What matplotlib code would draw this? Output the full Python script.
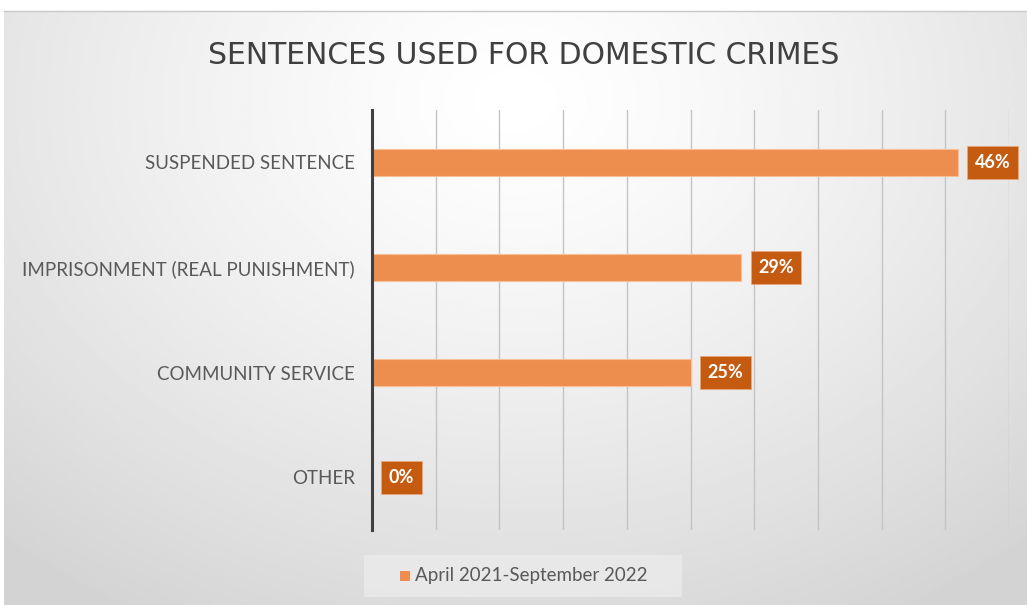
import numpy as np
import matplotlib.pyplot as plt
from matplotlib.patches import Rectangle

categories = ['SUSPENDED SENTENCE', 'IMPRISONMENT (REAL PUNISHMENT)', 'COMMUNITY SERVICE', 'OTHER']
shares = [46, 29, 25, 0]
series_name = 'April 2021-September 2022'

bar_color = '#EE8E4E'
label_color = '#C55A11'

fig = plt.figure(figsize=(10.27, 6.05), dpi=100)
fig.patch.set_facecolor('white')

# chart area with a soft radial shading
bg = fig.add_axes([4 / 1027, 0, 1 - 4 / 1027, 1 - 11 / 605])
yy, xx = np.mgrid[0:1:300j, 0:1:500j]
r = np.sqrt(((xx - 0.5) / 0.75) ** 2 + ((yy - 0.15) / 1.0) ** 2)
shade = 1.0 - 0.17 * np.clip(r, 0, 1) ** 1.3
bg.imshow(shade, cmap='gray', vmin=0, vmax=1, aspect='auto', extent=[0, 1, 0, 1], origin='upper')
bg.set_axis_off()
fig.add_artist(plt.Line2D([4 / 1027, 1], [1 - 11 / 605, 1 - 11 / 605], color='#C8C8C8', lw=1))

ax = fig.add_axes([372 / 1027, 75 / 605, 637 / 1027, 420 / 605])
ax.patch.set_alpha(0)

y = np.arange(len(categories))
ax.barh(y, shares, height=0.25, color=bar_color, edgecolor='#F6BF98', linewidth=0.8, zorder=3)

for yi, v in zip(y, shares):
    ax.annotate(f'{v}%', xy=(v, yi), xytext=(12, 0), textcoords='offset points',
                ha='left', va='center', color='white', fontsize=13, fontweight='bold',
                family=['Lato', 'DejaVu Sans'], zorder=5,
                bbox=dict(boxstyle='square,pad=0.42', fc=label_color, ec='#E8A77A', lw=0.6))

ax.set_xlim(0, 50)
ax.set_ylim(len(categories) - 0.5, -0.5)
ax.set_xticks(np.arange(0, 51, 5))
ax.tick_params(axis='x', length=0, labelbottom=False)
ax.tick_params(axis='y', length=0, pad=12.5)
ax.set_yticks(y)
ax.set_yticklabels(categories, fontsize=13.5, color='#595959', family=['Lato', 'DejaVu Sans'])
ax.grid(axis='x', color='#C4C4C4', lw=1, zorder=0)
for side in ['top', 'right', 'bottom']:
    ax.spines[side].set_visible(False)
ax.spines['left'].set_color('#404040')
ax.spines['left'].set_linewidth(2.2)
ax.spines['left'].set_zorder(4)

fig.text(524 / 1027, 1 - 56 / 605, 'SENTENCES USED FOR DOMESTIC CRIMES', ha='center', va='center',
         fontsize=21.5, color='#404040', family=['DejaVu Sans'])

# legend box at the bottom
fig.add_artist(Rectangle((364 / 1027, 8 / 605), 318 / 1027, 42 / 605, transform=fig.transFigure,
                         fc='#EBEBEB', ec='none', alpha=0.8))
fig.add_artist(Rectangle((400 / 1027, 24 / 605), 10 / 1027, 10 / 605, transform=fig.transFigure,
                         fc=bar_color, ec='none'))
fig.text(415 / 1027, 29 / 605, series_name, ha='left', va='center', fontsize=13.5,
         color='#595959', family=['Lato', 'DejaVu Sans'])

fig.savefig('out.png', dpi=100)
